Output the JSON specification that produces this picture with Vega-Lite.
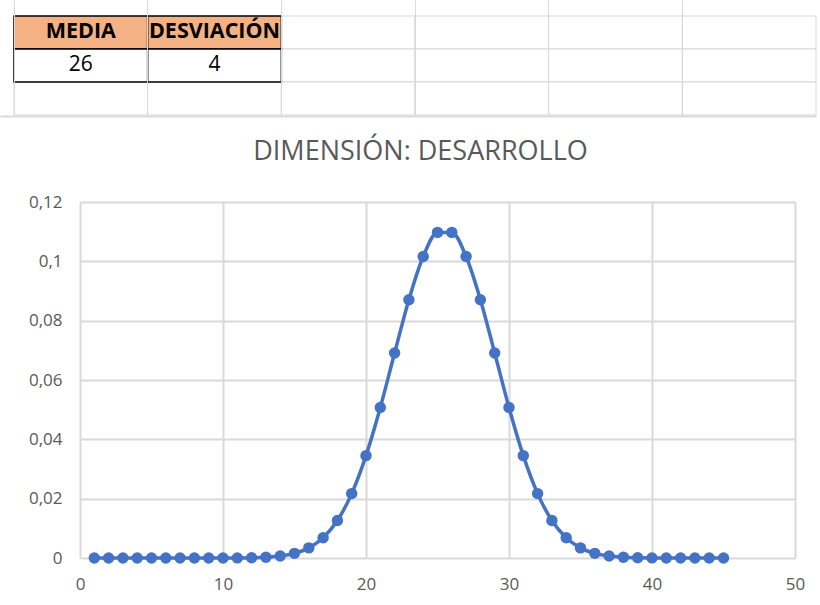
{
  "$schema": "https://vega.github.io/schema/vega-lite/v6.json",
  "padding": {"left": 0, "top": 0, "right": 0, "bottom": 8},
  "spacing": 22,
  "background": "white",
  "config": {
    "view": {"stroke": null},
    "font": "Open Sans",
    "locale": {"number": {"decimal": ",", "thousands": ".", "grouping": [3], "currency": ["", " €"]}}
  },
  "datasets": {
    "cells": [
      {"col": "A", "row": 2, "text": "MEDIA", "kind": "header"},
      {"col": "B", "row": 2, "text": "DESVIACIÓN", "kind": "header"},
      {"col": "A", "row": 3, "text": "26", "kind": "value"},
      {"col": "B", "row": 3, "text": "4", "kind": "value"},
      {"col": "C", "row": 2, "text": "", "kind": "empty"},
      {"col": "D", "row": 2, "text": "", "kind": "empty"},
      {"col": "E", "row": 2, "text": "", "kind": "empty"},
      {"col": "F", "row": 2, "text": "", "kind": "empty"},
      {"col": "C", "row": 3, "text": "", "kind": "empty"},
      {"col": "D", "row": 3, "text": "", "kind": "empty"},
      {"col": "E", "row": 3, "text": "", "kind": "empty"},
      {"col": "F", "row": 3, "text": "", "kind": "empty"},
      {"col": "A", "row": 4, "text": "", "kind": "empty"},
      {"col": "B", "row": 4, "text": "", "kind": "empty"},
      {"col": "C", "row": 4, "text": "", "kind": "empty"},
      {"col": "D", "row": 4, "text": "", "kind": "empty"},
      {"col": "E", "row": 4, "text": "", "kind": "empty"},
      {"col": "F", "row": 4, "text": "", "kind": "empty"}
    ],
    "curve": [
      {"x": 1, "y": 0}, {"x": 2, "y": 0}, {"x": 3, "y": 0}, {"x": 4, "y": 0}, {"x": 5, "y": 0},
      {"x": 6, "y": 0}, {"x": 7, "y": 0}, {"x": 8, "y": 0}, {"x": 9, "y": 0}, {"x": 10, "y": 0},
      {"x": 11, "y": 0.00003}, {"x": 12, "y": 0.0001}, {"x": 13, "y": 0.00027}, {"x": 14, "y": 0.00067},
      {"x": 15, "y": 0.00157}, {"x": 16, "y": 0.00341}, {"x": 17, "y": 0.00683}, {"x": 18, "y": 0.01265},
      {"x": 19, "y": 0.02171}, {"x": 20, "y": 0.0345}, {"x": 21, "y": 0.05073}, {"x": 22, "y": 0.06909},
      {"x": 23, "y": 0.08707}, {"x": 24, "y": 0.10161}, {"x": 25, "y": 0.10976}, {"x": 26, "y": 0.10976},
      {"x": 27, "y": 0.10161}, {"x": 28, "y": 0.08707}, {"x": 29, "y": 0.06909}, {"x": 30, "y": 0.05073},
      {"x": 31, "y": 0.0345}, {"x": 32, "y": 0.02171}, {"x": 33, "y": 0.01265}, {"x": 34, "y": 0.00683},
      {"x": 35, "y": 0.00341}, {"x": 36, "y": 0.00157}, {"x": 37, "y": 0.00067}, {"x": 38, "y": 0.00027},
      {"x": 39, "y": 0.0001}, {"x": 40, "y": 0.00003}, {"x": 41, "y": 0.00001}, {"x": 42, "y": 0},
      {"x": 43, "y": 0}, {"x": 44, "y": 0}, {"x": 45, "y": 0}
    ]
  },
  "vconcat": [
    {
      "width": 816,
      "height": 116,
      "data": {"name": "cells"},
      "encoding": {
        "x": {
          "field": "col", "type": "nominal",
          "scale": {"type": "band", "paddingInner": 0, "paddingOuter": 0.0524, "align": 1},
          "axis": {"orient": "bottom", "labels": false, "ticks": false, "title": null, "grid": true, "gridColor": "#d9d9d9", "gridWidth": 1, "bandPosition": 0, "domainColor": "#d9d9d9", "domainWidth": 2}
        },
        "y": {
          "field": "row", "type": "ordinal",
          "scale": {"type": "band", "paddingInner": 0, "paddingOuter": 0.2576, "align": 0.941},
          "axis": null
        }
      },
      "layer": [
        {"transform": [{"filter": "datum.kind === 'empty'"}], "mark": {"type": "rect", "fill": "white", "stroke": "#d9d9d9", "strokeWidth": 1}},
        {"transform": [{"filter": "datum.kind !== 'empty'"}], "mark": {"type": "rect", "stroke": "#000000", "strokeWidth": 1.5},
          "encoding": {"fill": {"field": "kind", "type": "nominal", "scale": {"domain": ["header", "value"], "range": ["#F4B183", "#ffffff"]}, "legend": null}}},
        {"transform": [{"filter": "datum.kind === 'header'"}], "mark": {"type": "text", "fontWeight": "bold", "fontSize": 21.5, "color": "#000000", "baseline": "middle"},
          "encoding": {"text": {"field": "text"}}},
        {"transform": [{"filter": "datum.kind === 'value'"}], "mark": {"type": "text", "fontSize": 21, "color": "#000000", "baseline": "middle"},
          "encoding": {"text": {"field": "text"}}}
      ]
    },
    {
      "spacing": 19,
      "hconcat": [
        {
          "width": 1,
          "height": 356,
          "data": {"values": []},
          "mark": "point"
        },
        {
          "width": 715,
          "height": 356,
          "title": {"text": "DIMENSIÓN: DESARROLLO", "fontSize": 27, "font": "Open Sans", "fontWeight": "normal", "color": "#595959", "offset": 27, "dx": -17, "anchor": "middle"},
          "data": {"name": "curve"},
          "mark": {"type": "line", "interpolate": "monotone", "strokeWidth": 3.5, "color": "#4472C4",
            "point": {"filled": true, "size": 130, "color": "#4472C4", "opacity": 1}},
          "encoding": {
            "x": {"field": "x", "type": "quantitative", "scale": {"domain": [0, 50], "nice": false},
              "axis": {"values": [0, 10, 20, 30, 40, 50], "title": null, "grid": true, "gridColor": "#d9d9d9", "gridWidth": 2, "ticks": false, "domain": false, "labelFlush": false, "labelFontSize": 17, "labelColor": "#595959", "labelPadding": 18, "labelFont": "Open Sans"}},
            "y": {"field": "y", "type": "quantitative", "scale": {"domain": [0, 0.12], "nice": false},
              "axis": {"values": [0, 0.02, 0.04, 0.06, 0.08, 0.1, 0.12], "format": ".2~f", "title": null, "grid": true, "gridColor": "#d9d9d9", "gridWidth": 2, "ticks": false, "domain": false, "labelFontSize": 17, "labelColor": "#595959", "labelPadding": 18, "minExtent": 60, "labelFont": "Open Sans"}}
          }
        }
      ]
    }
  ]
}
